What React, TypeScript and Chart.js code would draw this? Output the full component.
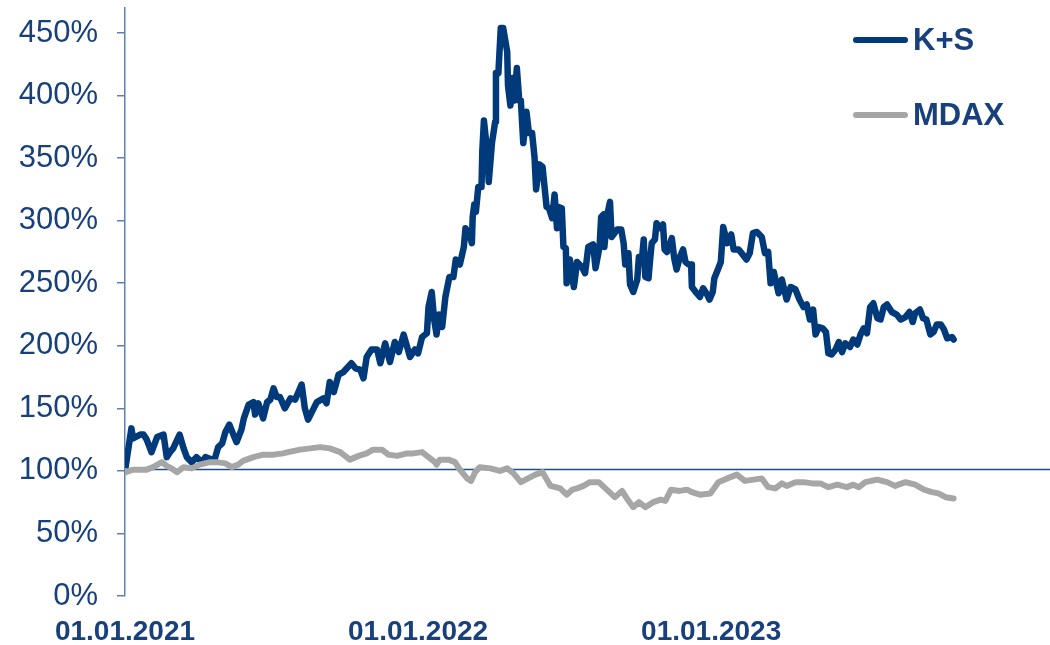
import React, { useEffect, useRef } from 'react';
import { Chart, registerables } from 'chart.js';

Chart.register(...registerables);

// Days since 01.01.2021 and indexed performance in % (start = 100 %)
const ksDays = [
  0, 8, 10, 19, 23, 27, 33, 40, 48, 52,
  56, 60, 68, 73, 77, 83, 89, 96, 100, 108,
  112, 116, 121, 125, 130, 135, 139, 145, 148, 154,
  160, 162, 166, 172, 177, 181, 185, 189, 193, 199,
  206, 212, 220, 224, 228, 235, 239, 247, 251, 255,
  260, 266, 272, 282, 287, 293, 297, 301, 307, 314,
  318, 324, 330, 336, 341, 347, 355, 361, 365, 370,
  376, 378, 382, 385, 388, 391, 395, 399, 404, 409,
  412, 417, 422, 424, 430, 432, 433, 435, 437, 440,
  444, 445, 447, 451, 453, 457, 461, 462, 465, 468,
  471, 476, 477, 480, 483, 485, 488, 491, 493, 496,
  500, 503, 507, 510, 512, 516, 520, 525, 528, 532,
  535, 538, 540, 544, 546, 549, 550, 554, 557, 559,
  563, 569, 573, 577, 583, 586, 591, 593, 596, 597,
  601, 604, 606, 613, 618, 621, 623, 627, 629, 633,
  638, 640, 644, 646, 648, 652, 654, 656, 660, 662,
  667, 670, 672, 675, 679, 681, 684, 687, 691, 695,
  698, 702, 705, 706, 712, 716, 720, 725, 728, 732,
  734, 739, 742, 745, 750, 755, 758, 764, 768, 774,
  778, 782, 787, 793, 797, 801, 804, 808, 814, 818,
  824, 829, 835, 840, 845, 849, 853, 857, 860, 864,
  869, 873, 876, 880, 885, 889, 893, 897, 903, 907,
  912, 916, 920, 924, 928, 932, 937, 941, 945, 949,
  955, 961, 966, 972, 977, 981, 984, 990, 994, 998,
  1003, 1007, 1011, 1016, 1020, 1024, 1030, 1032,
];
const ksValues = [
  100, 134, 126, 129, 129, 125, 115, 127, 129, 111,
  115, 118, 129, 118, 111, 107, 111, 107, 111, 109,
  110, 119, 122, 131, 137, 129, 123, 133, 142, 153,
  155, 145, 154, 142, 155, 157, 166, 159, 159, 150,
  158, 157, 169, 150, 141, 150, 155, 158, 154, 171,
  163, 177, 179, 186, 182, 181, 174, 191, 197, 197,
  186, 202, 187, 203, 195, 209, 191, 197, 194, 207,
  210, 231, 243, 221, 209, 225, 215, 239, 255, 255,
  269, 265, 279, 294, 287, 282, 303, 313, 307, 327,
  327, 356, 380, 356, 331, 362, 379, 418, 418, 454,
  454, 435, 408, 392, 414, 396, 422, 396, 396, 362,
  387, 370, 370, 351, 325, 345, 343, 311, 310, 302,
  321, 294, 311, 310, 279, 278, 250, 269, 255, 247,
  267, 263, 258, 279, 281, 262, 279, 303, 305, 279,
  306, 315, 287, 293, 293, 282, 265, 274, 249, 243,
  253, 271, 271, 285, 255, 254, 269, 282, 285, 298,
  294, 297, 277, 275, 282, 286, 270, 261, 271, 277,
  267, 265, 265, 247, 242, 239, 246, 241, 237, 243,
  254, 262, 267, 295, 282, 289, 277, 277, 274, 269,
  274, 290, 291, 287, 274, 275, 250, 259, 242, 253,
  237, 247, 245, 237, 231, 233, 221, 229, 209, 215,
  214, 211, 194, 193, 197, 203, 195, 202, 199, 205,
  201, 209, 214, 210, 231, 234, 222, 221, 231, 233,
  227, 225, 221, 223, 227, 219, 226, 229, 222, 221,
  209, 211, 217, 217, 213, 206, 207, 205,
];

const mdaxDays = [
  0, 1, 10, 19, 27, 35, 46, 52, 58, 65,
  73, 83, 93, 106, 114, 125, 133, 141, 147, 160,
  172, 185, 197, 203, 218, 231, 243, 255, 268, 280,
  291, 301, 309, 320, 328, 339, 351, 359, 370, 378,
  386, 388, 392, 403, 411, 417, 426, 431, 436, 442,
  455, 467, 476, 484, 493, 502, 511, 520, 530, 542,
  550, 557, 563, 571, 579, 590, 600, 610, 619, 625,
  633, 640, 648, 658, 667, 673, 680, 691, 700, 706,
  716, 729, 739, 750, 762, 772, 783, 793, 801, 810,
  818, 824, 835, 845, 856, 866, 876, 887, 899, 907,
  914, 922, 937, 949, 959, 972, 984, 995, 1005, 1013,
  1022, 1032,
];
const mdaxValues = [
  100, 99, 101, 101, 101, 103, 107, 104, 102, 99,
  103, 102, 105, 107, 107, 106, 103, 105, 108, 111,
  113, 113, 114, 115, 117, 118, 119, 118, 115, 109,
  112, 114, 117, 117, 113, 112, 114, 114, 115, 111,
  107, 105, 109, 109, 107, 101, 94, 92, 99, 103,
  102, 100, 102, 98, 91, 94, 97, 99, 88, 86,
  81, 85, 86, 88, 91, 91, 85, 79, 84, 78,
  71, 75, 71, 75, 77, 76, 85, 84, 85, 83,
  81, 82, 91, 94, 97, 92, 93, 94, 87, 86,
  90, 88, 91, 91, 90, 90, 87, 89, 87, 89,
  87, 91, 93, 91, 88, 91, 89, 85, 83, 82,
  79, 78,
];

const seriesLabels = ['K+S', 'MDAX'];
const seriesColors = ['#003A7A', '#A6A6A6'];
const xTickDays = [0, 365, 730];
const xTickLabels = ['01.01.2021', '01.01.2022', '01.01.2023'];
const yTickValues = [0, 50, 100, 150, 200, 250, 300, 350, 400, 450];
const baselineValue = 100;

const TEXT_COLOR = '#17407C';
const AXIS_COLOR = '#5F80B6';
const FONT = '"Liberation Sans", Arial, sans-serif';

const baselinePlugin = {
  id: 'baselineLine',
  beforeDatasetsDraw(chart: any) {
    const { ctx, chartArea, scales } = chart;
    const y = Math.round(scales.y.getPixelForValue(baselineValue)) - 1.5;
    ctx.save();
    ctx.strokeStyle = '#1D4C8C';
    ctx.lineWidth = 1.5;
    ctx.beginPath();
    ctx.moveTo(chartArea.left, y);
    ctx.lineTo(chartArea.right, y);
    ctx.stroke();
    ctx.restore();
  },
};

const sideLegendPlugin = {
  id: 'sideLegend',
  afterDraw(chart: any) {
    const { ctx } = chart;
    const rowsY = [40, 115];
    chart.data.datasets.forEach((ds: any, i: number) => {
      const y = rowsY[i];
      ctx.save();
      ctx.strokeStyle = ds.borderColor;
      ctx.lineWidth = 6;
      ctx.lineCap = 'round';
      ctx.beginPath();
      ctx.moveTo(856, y);
      ctx.lineTo(905, y);
      ctx.stroke();
      ctx.fillStyle = TEXT_COLOR;
      ctx.font = `bold 31px ${FONT}`;
      ctx.textAlign = 'left';
      ctx.textBaseline = 'middle';
      ctx.fillText(ds.label, 913, y + 1);
      ctx.restore();
    });
  },
};

export default function App() {
  const canvasRef = useRef<HTMLCanvasElement | null>(null);

  useEffect(() => {
    if (!canvasRef.current) return;
    const chart = new Chart(canvasRef.current, {
      type: 'line',
      data: {
        datasets: [
          {
            label: seriesLabels[0],
            data: ksDays.map((d, i) => ({ x: d, y: ksValues[i] })),
            borderColor: seriesColors[0],
            backgroundColor: seriesColors[0],
            borderWidth: 6.5,
            pointRadius: 0,
            tension: 0,
            borderJoinStyle: 'round',
            borderCapStyle: 'round',
            order: 1,
          },
          {
            label: seriesLabels[1],
            data: mdaxDays.map((d, i) => ({ x: d, y: mdaxValues[i] })),
            borderColor: seriesColors[1],
            backgroundColor: seriesColors[1],
            borderWidth: 6,
            pointRadius: 0,
            tension: 0,
            borderJoinStyle: 'round',
            borderCapStyle: 'round',
            order: 0,
          },
        ],
      },
      options: {
        animation: false,
        responsive: true,
        maintainAspectRatio: false,
        layout: { padding: { top: 8, right: 0, left: 0, bottom: 0 } },
        plugins: {
          legend: { display: false },
          tooltip: { enabled: false },
        },
        scales: {
          x: {
            type: 'linear',
            min: 0,
            max: 1152,
            grid: { display: false, drawTicks: false },
            border: { display: false },
            afterBuildTicks: (scale: any) => {
              scale.ticks = xTickDays.map((v) => ({ value: v }));
            },
            afterFit: (scale: any) => {
              scale.height = 49;
              scale.paddingLeft = 0;
              scale.paddingRight = 0;
            },
            ticks: {
              autoSkip: false,
              maxRotation: 0,
              padding: 19,
              color: TEXT_COLOR,
              font: { family: FONT, size: 28, weight: 'bold' },
              callback: (value: any) => {
                const idx = xTickDays.indexOf(Number(value));
                return idx >= 0 ? xTickLabels[idx] : '';
              },
            },
          },
          y: {
            min: 0,
            max: 470,
            grid: {
              drawOnChartArea: false,
              drawTicks: true,
              tickLength: 8,
              color: AXIS_COLOR,
              lineWidth: 1.5,
            },
            border: { display: true, color: AXIS_COLOR, width: 1.5 },
            afterBuildTicks: (scale: any) => {
              scale.ticks = yTickValues.map((v) => ({ value: v }));
            },
            afterFit: (scale: any) => {
              scale.width = 125;
              scale.paddingTop = 0;
              scale.paddingBottom = 0;
            },
            ticks: {
              padding: 19,
              color: TEXT_COLOR,
              font: { family: FONT, size: 31 },
              callback: (value: any) => `${value}%`,
            },
          },
        },
      },
      plugins: [baselinePlugin, sideLegendPlugin],
    } as any);
    return () => chart.destroy();
  }, []);

  return (
    <div style={{ position: 'absolute', left: 0, top: 0, width: 1050, height: 645, background: '#fff' }}>
      <canvas ref={canvasRef} />
    </div>
  );
}
